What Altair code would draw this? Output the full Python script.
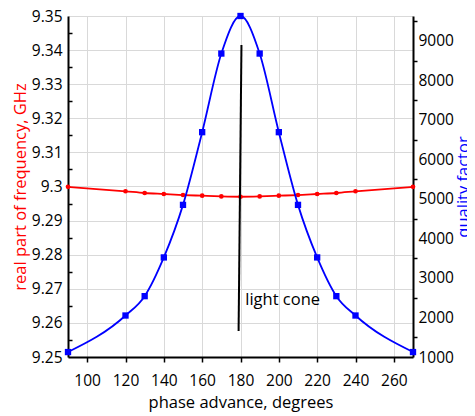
import altair as alt
import pandas as pd

# phase advance (degrees)
phase = [90, 120, 130, 140, 150, 160, 170, 180, 190, 200, 210, 220, 230, 240, 270]
# real part of frequency, GHz
freq = [9.2999, 9.2986, 9.2981, 9.2978, 9.2975, 9.2973, 9.2971, 9.2970,
        9.2971, 9.2973, 9.2975, 9.2978, 9.2981, 9.2986, 9.2999]
# quality factor
qual = [1125, 2050, 2540, 3520, 4850, 6690, 8680, 9630,
        8680, 6690, 4850, 3520, 2540, 2050, 1125]

# light cone line
cone_x = [179.0, 180.5]
cone_y = [9.2576, 9.3415]
label_x = [182.5]
label_y = [9.2668]
label_text = ["light cone"]

x_ticks = [100, 120, 140, 160, 180, 200, 220, 240, 260]
left_vals = [round(9.25 + 0.005 * i, 3) for i in range(21)]
right_vals = [1000 + 500 * i for i in range(18)]

RED = "#ff0000"
BLUE = "#0000ff"
FONT = "Open Sans"

df = pd.DataFrame({"phase": phase, "freq": freq, "qual": qual})
cone = pd.DataFrame({"phase": cone_x, "freq": cone_y})
lab = pd.DataFrame({"phase": label_x, "freq": label_y, "t": label_text})

xscale = alt.Scale(domain=[90, 270], nice=False, zero=False)
xaxis = alt.Axis(values=x_ticks, title="phase advance, degrees", grid=True,
                 gridColor="#d9d9d9", tickSize=5, tickColor="black",
                 domainColor="black", labelPadding=11, titlePadding=6)
x = alt.X("phase:Q", scale=xscale, axis=xaxis)

major_left = "abs(datum.value*100 - round(datum.value*100)) < 0.001"
left_axis = alt.Axis(
    values=left_vals,
    title="real part of frequency, GHz", titleColor=RED,
    grid=True, gridColor="#d9d9d9",
    gridOpacity={"condition": {"test": major_left, "value": 1}, "value": 0},
    tickOpacity={"condition": {"test": major_left, "value": 0}, "value": 1},
    tickSize={"expr": "-4"}, tickColor="black",
    labelExpr=f"{major_left} ? format(datum.value, '.2~f') : ''",
    labelPadding=10, titlePadding=3, domainColor="black",
)
yl_scale = alt.Scale(domain=[9.25, 9.35], nice=False, zero=False)
yl = alt.Y("freq:Q", scale=yl_scale, axis=left_axis)

red = alt.Chart(df).mark_line(
    color=RED, strokeWidth=1.8, interpolate="monotone",
    point=alt.OverlayMarkDef(color=RED, filled=True, size=22, shape="circle"),
).encode(x=x, y=yl)

cone_line = alt.Chart(cone).mark_line(color="black", strokeWidth=2).encode(x=x, y=yl)
cone_text = alt.Chart(lab).mark_text(
    align="left", baseline="middle", font=FONT, fontSize=16.5, color="black"
).encode(x=x, y=yl, text="t:N")

left = alt.layer(red, cone_line, cone_text)

major_right = "datum.value % 1000 == 0"
right_axis = alt.Axis(
    values=right_vals, orient="right",
    title="quality factor", titleColor=BLUE, titleAngle=270, titleBaseline="top",
    grid=False, tickSize=4, tickColor="black",
    tickOpacity={"condition": {"test": major_right, "value": 0}, "value": 1},
    labelExpr=f"{major_right} ? format(datum.value, 'd') : ''",
    labelPadding=1, titlePadding=2, domainColor="black",
)
yr = alt.Y("qual:Q", scale=alt.Scale(domain=[1000, 9630], nice=False, zero=False),
           axis=right_axis)

blue = alt.Chart(df).mark_line(
    color=BLUE, strokeWidth=1.8, interpolate="monotone",
    point=alt.OverlayMarkDef(color=BLUE, filled=True, size=40, shape="square"),
).encode(x=x, y=yr)

chart = alt.layer(left, blue).resolve_scale(y="independent").properties(
    width=345, height=341,
    autosize=alt.AutoSizeParams(type="none"),
    padding={"left": 60, "top": 8, "right": 54, "bottom": 56},
).configure_axis(
    labelFont=FONT, titleFont=FONT, labelFontSize=15.5, titleFontSize=16.5,
    titleFontWeight="normal", labelColor="black", domainWidth=2, tickWidth=1.5,
    labelFlush=False, labelOverlap=False,
).configure_view(stroke=None)

chart.save("out.html", embed_options={"renderer": "svg", "actions": False})
